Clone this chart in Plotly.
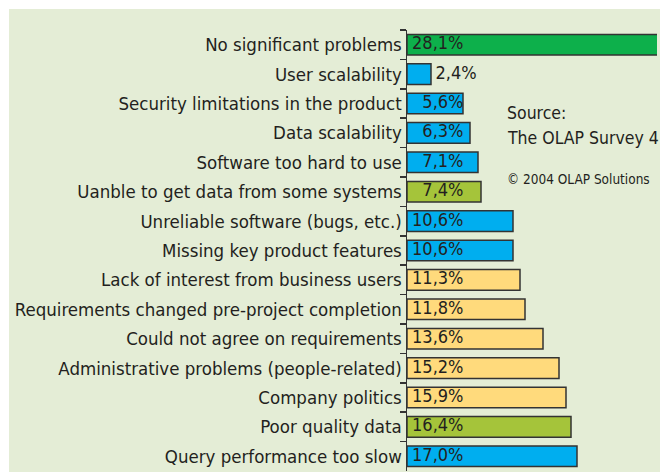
import plotly.graph_objects as go

categories = [
    "No significant problems",
    "User scalability",
    "Security limitations in the product",
    "Data scalability",
    "Software too hard to use",
    "Uanble to get data from some systems",
    "Unreliable software (bugs, etc.)",
    "Missing key product features",
    "Lack of interest from business users",
    "Requirements changed pre-project completion",
    "Could not agree on requirements",
    "Administrative problems (people-related)",
    "Company politics",
    "Poor quality data",
    "Query performance too slow",
]
values = [28.1, 2.4, 5.6, 6.3, 7.1, 7.4, 10.6, 10.6, 11.3, 11.8, 13.6, 15.2, 15.9, 16.4, 17.0]
groups = ["top", "tech", "tech", "tech", "tech", "data", "tech", "tech",
          "org", "org", "org", "org", "org", "data", "tech"]
value_labels = [f"{v:.1f}".replace(".", ",") + "%" for v in values]

GROUP_COLORS = {"top": "#0DB04B", "tech": "#00AEEF", "data": "#A5C43A", "org": "#FFDA7C"}
BG = "#E4EDD6"
FONT = "DejaVu Sans Condensed, sans-serif"
TEXT = "#231F20"
LABEL_X = 5.65      # right edge of in-bar value labels (axis units)
INSIDE_MIN = 5.0    # shorter bars get the label outside
OUTSIDE_PAD = 0.45  # gap between a short bar and its outside label (axis units)

fig = go.Figure()
fig.add_trace(go.Bar(
    x=values, y=categories, orientation="h",
    marker=dict(color=[GROUP_COLORS[g] for g in groups],
                line=dict(color="#333333", width=1.5)),
    width=0.7, hoverinfo="skip",
))
fig.add_trace(go.Scatter(
    x=[LABEL_X if v >= INSIDE_MIN else v + OUTSIDE_PAD for v in values],
    y=categories,
    mode="text",
    text=value_labels,
    textposition=["middle left" if v >= INSIDE_MIN else "middle right" for v in values],
    textfont=dict(family=FONT, size=18, color=TEXT),
    hoverinfo="skip", cliponaxis=False,
))

# light green panel (white 9px border at top and left)
fig.add_shape(type="rect", xref="paper", yref="paper",
              x0=-1.592, x1=1.1, y0=-0.1, y1=1.0476,
              fillcolor=BG, line_width=0, layer="below")

for txt, yy, sz in [("Source:", 0.812, 17.5), ("The OLAP Survey 4", 0.755, 17.5),
                    ("© 2004 OLAP Solutions", 0.662, 13.5)]:
    fig.add_annotation(text=txt, xref="paper", yref="paper", x=0.392, y=yy,
                       xanchor="left", yanchor="middle", showarrow=False,
                       font=dict(family=FONT, size=sz, color=TEXT))

n = len(categories)
fig.update_layout(
    width=660, height=472,
    margin=dict(l=407, r=3, t=30, b=1),
    paper_bgcolor="white", plot_bgcolor=BG,
    showlegend=False,
    xaxis=dict(range=[0, 25], visible=False, fixedrange=True),
    yaxis=dict(range=[n - 0.5, -0.5], showline=True, linecolor="#333333", linewidth=1.5,
               ticks="outside", tickson="boundaries", ticklen=6, tickwidth=1.5,
               tickcolor="#333333", showgrid=False, zeroline=False, automargin=False,
               fixedrange=True, tickfont=dict(family=FONT, size=18.5, color=TEXT)),
)
fig.write_html(
    "out.html",
    config={"displayModeBar": False, "staticPlot": True},
    post_script="document.documentElement.style.overflow='hidden';"
                "document.body.style.overflow='hidden';"
                "document.body.style.margin='0';"
                "document.documentElement.style.background='" + BG + "';",
)
